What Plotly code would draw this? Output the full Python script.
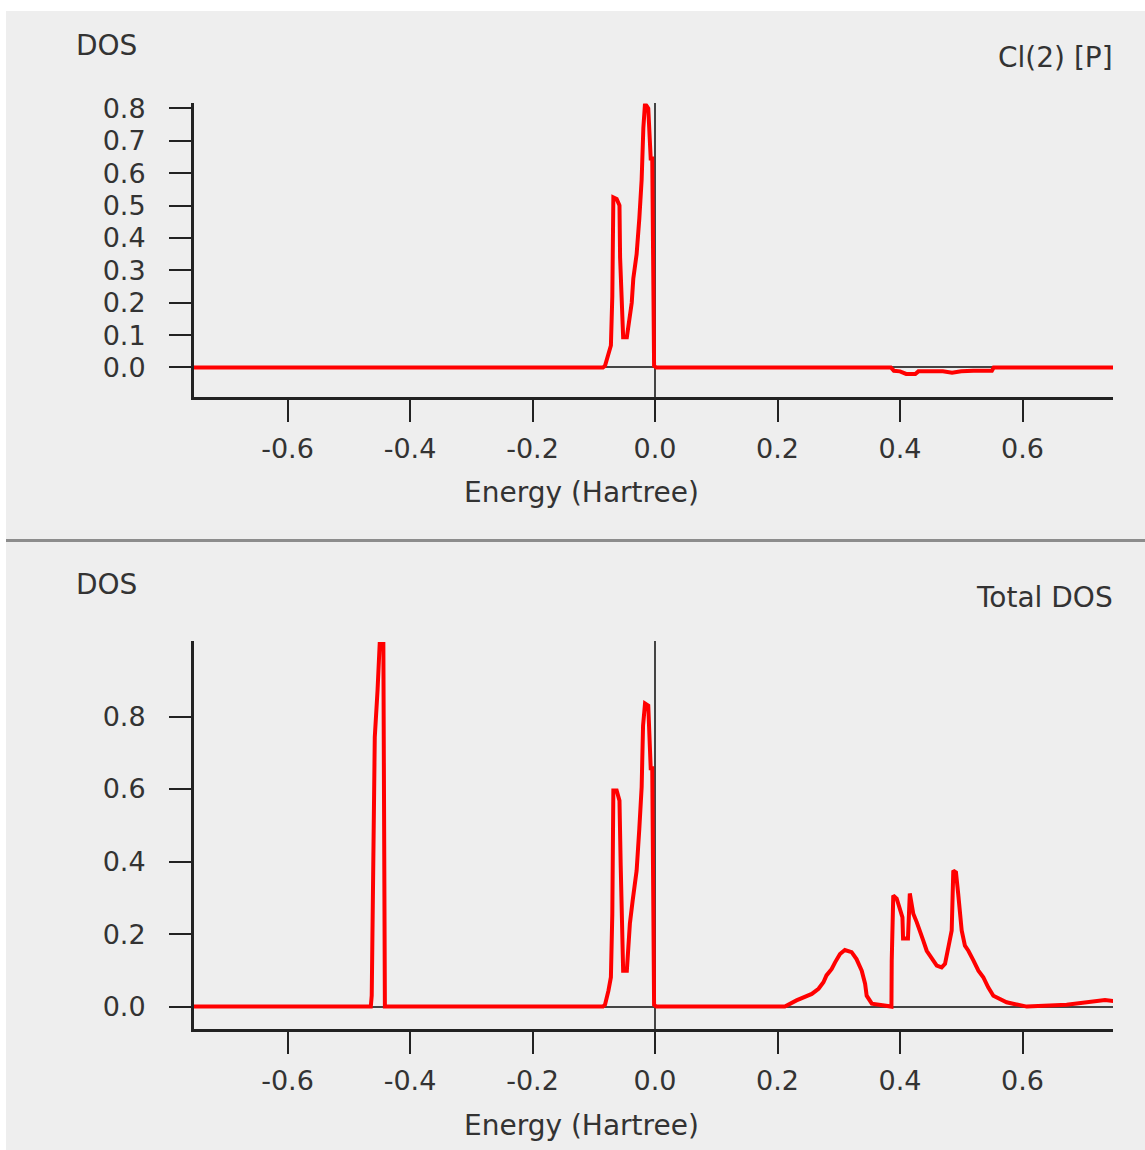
import plotly.graph_objects as go

# ---------------- data ----------------
# Top panel: Cl(2) [P] projected DOS
cl_energy = [-0.76, -0.085, -0.0816, -0.076, -0.072, -0.0697, -0.068, -0.0626, -0.058, -0.057,
             -0.054, -0.052, -0.046, -0.0435, -0.041, -0.038, -0.0354, -0.030, -0.0256, -0.0218,
             -0.019, -0.0163, -0.011, -0.0093, -0.007, -0.0045, -0.0035, -0.0015, 0.002,
             0.385, 0.39, 0.40, 0.41, 0.425, 0.43, 0.45, 0.47, 0.485, 0.50, 0.52, 0.55, 0.553, 0.75]
cl_dos = [0.0, 0.0, 0.005, 0.043, 0.068, 0.22, 0.525, 0.52, 0.50, 0.34,
          0.185, 0.093, 0.093, 0.135, 0.175, 0.20, 0.275, 0.35, 0.46, 0.58,
          0.74, 0.815, 0.80, 0.74, 0.645, 0.645, 0.24, 0.005, 0.0,
          0.0, -0.01, -0.012, -0.02, -0.02, -0.012, -0.012, -0.012, -0.016, -0.012, -0.01, -0.01, 0.0, 0.0]

# Bottom panel: Total DOS
tot_energy = [-0.76, -0.464, -0.4625, -0.461, -0.4575, -0.453, -0.4495, -0.4435, -0.4425, -0.441,
              -0.085, -0.0816, -0.076, -0.072, -0.0697, -0.068, -0.0626, -0.058, -0.056, -0.054,
              -0.052, -0.046, -0.0435, -0.041, -0.0365, -0.030, -0.0256, -0.0218, -0.0195, -0.0163,
              -0.011, -0.0093, -0.007, -0.0045, -0.0035, -0.0015, 0.002,
              0.212, 0.231, 0.242, 0.256, 0.267, 0.275, 0.280, 0.2885, 0.294, 0.302,
              0.310, 0.321, 0.329, 0.3375, 0.343, 0.3456, 0.354, 0.386, 0.3865, 0.389,
              0.3946, 0.400, 0.404, 0.405, 0.413, 0.416, 0.4217, 0.4273, 0.4327, 0.438,
              0.4436, 0.4517, 0.460, 0.468, 0.4735, 0.479, 0.4844, 0.487, 0.4914, 0.495,
              0.498, 0.5007, 0.506, 0.5116, 0.520, 0.528, 0.536, 0.544, 0.5524, 0.5633,
              0.574, 0.5845, 0.607, 0.672, 0.702, 0.7347, 0.75]
tot_dos = [0.0, 0.0, 0.03, 0.233, 0.743, 0.872, 1.0, 1.0, 0.005, 0.0,
           0.0, 0.005, 0.044, 0.081, 0.256, 0.596, 0.596, 0.568, 0.389, 0.21,
           0.099, 0.099, 0.191, 0.229, 0.292, 0.375, 0.491, 0.605, 0.775, 0.836,
           0.83, 0.748, 0.657, 0.657, 0.243, 0.005, 0.0,
           0.0, 0.017, 0.026, 0.035, 0.049, 0.067, 0.086, 0.104, 0.122, 0.145,
           0.156, 0.150, 0.131, 0.099, 0.063, 0.030, 0.008, 0.0, 0.127, 0.306,
           0.298, 0.27, 0.246, 0.188, 0.188, 0.312, 0.256, 0.233, 0.21, 0.182,
           0.154, 0.136, 0.113, 0.108, 0.118, 0.164, 0.21, 0.375, 0.37, 0.311,
           0.265, 0.21, 0.168, 0.154, 0.127, 0.099, 0.081, 0.053, 0.030, 0.021,
           0.012, 0.008, 0.0, 0.005, 0.012, 0.018, 0.015]

x_tickvals = [-0.6, -0.4, -0.2, 0.0, 0.2, 0.4, 0.6]
x_ticktext = ["-0.6", "-0.4", "-0.2", "0.0", "0.2", "0.4", "0.6"]
top_y_tickvals = [0.0, 0.1, 0.2, 0.3, 0.4, 0.5, 0.6, 0.7, 0.8]
top_y_ticktext = ["0.0", "0.1", "0.2", "0.3", "0.4", "0.5", "0.6", "0.7", "0.8"]
bot_y_tickvals = [0.0, 0.2, 0.4, 0.6, 0.8]
bot_y_ticktext = ["0.0", "0.2", "0.4", "0.6", "0.8"]

# ---------------- layout helpers ----------------
W, H = 1145, 1150
def px(x):
    return x / W
def py(y):
    # convert a reference pixel row into a paper fraction (compensates page offset)
    yf = (y - 10.5) / 0.9905
    yf = min(max(yf, 0), H)
    return 1 - yf / H

X_LEFT_PX, X_RIGHT_PX, X_ZERO_PX, X_SCALE = 194, 1113, 655, 612.5
X_RANGE = [-(X_ZERO_PX - X_LEFT_PX) / X_SCALE, (X_RIGHT_PX - X_ZERO_PX) / X_SCALE]

TICKFONT = dict(family="DejaVu Sans", size=27, color="#333333")
TEXTFONT = dict(family="DejaVu Sans", size=28, color="#333333")
AXLINE = "#222222"

fig = go.Figure()
fig.add_trace(go.Scatter(x=cl_energy, y=cl_dos, mode="lines",
                         line=dict(color="#ff0000", width=4), xaxis="x", yaxis="y",
                         showlegend=False, hoverinfo="skip", cliponaxis=True))
fig.add_trace(go.Scatter(x=tot_energy, y=tot_dos, mode="lines",
                         line=dict(color="#ff0000", width=4), xaxis="x2", yaxis="y2",
                         showlegend=False, hoverinfo="skip", cliponaxis=True))

def xaxis_cfg(anchor):
    return dict(domain=[px(X_LEFT_PX), px(X_RIGHT_PX)], range=X_RANGE, anchor=anchor,
                tickvals=x_tickvals, ticktext=x_ticktext, ticks="outside", ticklen=22,
                tickwidth=2, tickcolor=AXLINE, showline=True, linecolor=AXLINE, linewidth=3,
                showgrid=False, zeroline=True, zerolinecolor="#444444", zerolinewidth=1.5,
                tickfont=TICKFONT, ticklabelstandoff=3, fixedrange=True)

def yaxis_cfg(anchor, dom, rng, tv, tt):
    return dict(domain=dom, range=rng, anchor=anchor, tickvals=tv, ticktext=tt,
                ticks="outside", ticklen=22, tickwidth=2, tickcolor=AXLINE,
                showline=True, linecolor=AXLINE, linewidth=3, showgrid=False,
                zeroline=True, zerolinecolor="#444444", zerolinewidth=1.5,
                tickfont=TICKFONT, ticklabelstandoff=18, fixedrange=True)

shapes = [
    dict(type="rect", xref="paper", yref="paper", x0=px(6), x1=1, y0=py(539), y1=py(9),
         fillcolor="#eeeeee", line=dict(width=0), layer="below"),
    dict(type="rect", xref="paper", yref="paper", x0=px(6), x1=1, y0=0, y1=py(541),
         fillcolor="#eeeeee", line=dict(width=0), layer="below"),
    dict(type="line", xref="paper", yref="paper", x0=px(6), x1=1, y0=py(540), y1=py(540),
         line=dict(color="#8c8c8c", width=3), layer="below"),
]

def ann(text, x, y, xanchor):
    return dict(text=text, x=px(x), y=py(y), xref="paper", yref="paper",
                xanchor=xanchor, yanchor="middle", showarrow=False, font=TEXTFONT)

annotations = [
    ann("DOS", 74, 45, "left"),
    ann("Cl(2) [P]", 1115, 57, "right"),
    ann("Energy (Hartree)", 581, 492, "center"),
    ann("DOS", 74, 584, "left"),
    ann("Total DOS", 1115, 597, "right"),
    ann("Energy (Hartree)", 581, 1125, "center"),
]

fig.update_layout(
    width=W, height=H, autosize=False,
    margin=dict(l=0, r=0, t=0, b=0),
    paper_bgcolor="#ffffff", plot_bgcolor="rgba(0,0,0,0)",
    xaxis=xaxis_cfg("y"),
    yaxis=yaxis_cfg("x", [py(397), py(103)], [-0.0926, 0.815], top_y_tickvals, top_y_ticktext),
    xaxis2=xaxis_cfg("y2"),
    yaxis2=yaxis_cfg("x2", [py(1029), py(641)], [-0.063, 1.007], bot_y_tickvals, bot_y_ticktext),
    shapes=shapes, annotations=annotations,
    font=TICKFONT,
)

pin = ("document.body.style.margin='0';"
       "var gd=document.getElementById('{plot_id}');"
       "gd.style.position='fixed';gd.style.left='0px';gd.style.top='0px';")
fig.write_html("out.html", post_script=pin, config={"displayModeBar": False})
